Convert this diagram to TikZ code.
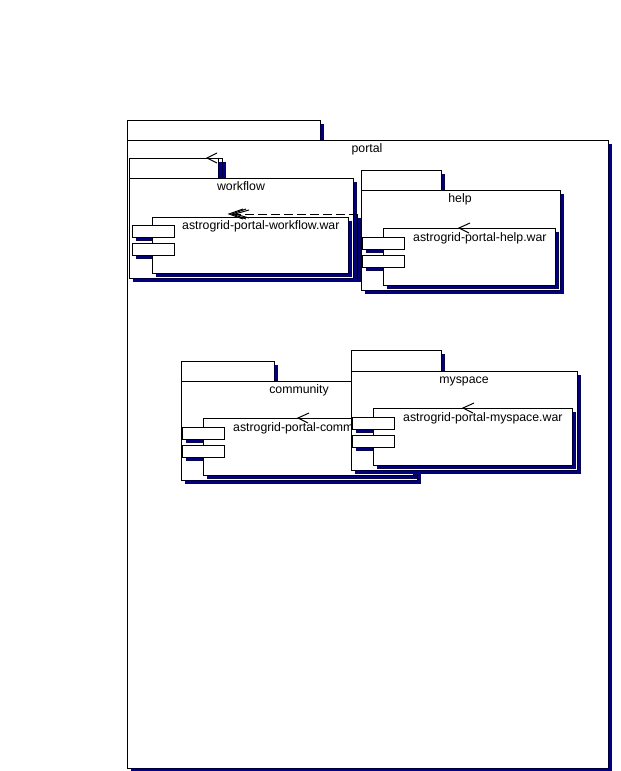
\documentclass[tikz,border=0pt]{standalone}
\usepackage{fontspec}
\setmainfont{Liberation Sans}
\usetikzlibrary{shadows}
\definecolor{navy}{RGB}{0,0,128}
\tikzset{
 box/.style={draw=black, fill=white, line width=1pt, inner sep=0pt, outer sep=0pt, anchor=north west,
   drop shadow={shadow xshift=3.5pt, shadow yshift=-3.5pt, fill=navy, opacity=1}},
 portbox/.style={draw=black, fill=white, line width=1pt, inner sep=0pt, outer sep=0pt, anchor=north west,
   minimum width=42pt, minimum height=12pt},
 lbl/.style={font=\fontsize{12.3}{14}\selectfont, inner sep=0pt, anchor=base},
 clbl/.style={lbl, anchor=base west},
 head/.style={line width=1pt, line join=miter},
}
\newcommand\bx[5]{\node[box, minimum width=#4pt, minimum height=#5pt] (#1) at (#2,#3) {};}
\newcommand\pshadow[2]{\fill[navy] (#1+3.5,#2+3.5) rectangle +(42,12);}
\begin{document}
\begin{tikzpicture}[x=1pt,y=-1pt]
\useasboundingbox (0,0) rectangle (621,771);
\fill[white] (0,0) rectangle (621,771);
% portal
\bx{portaltab}{127}{120}{193}{20}
\bx{portalbody}{127}{140}{481}{628}
\node[lbl] (portallbl) at (367,152) {portal};
% workflow
\bx{wftabb}{129}{158}{93}{20}
\bx{wftab}{129}{158}{89}{20}
\bx{wfextra}{152}{214}{205}{64}
\bx{wfbody}{129}{178}{224}{100}
\node[lbl] (wflbl) at (241,190) {workflow};
\pshadow{132}{225}\pshadow{132}{243}
\bx{wfcomp}{152}{217}{196}{56}
\node[portbox] (wfp1) at (132,225) {};
\node[portbox] (wfp2) at (132,243) {};
\node[clbl] (wfclbl) at (182,229) {astrogrid-portal-workflow.war};
% help
\bx{hptab}{361}{170}{80}{20}
\bx{hpbody}{361}{190}{199}{100}
\node[lbl] (hplbl) at (460,202) {help};
\pshadow{362}{237}\pshadow{362}{255}
\bx{hpcomp}{383}{228}{172}{57}
\node[portbox] (hpp1) at (362,237) {};
\node[portbox] (hpp2) at (362,255) {};
\node[clbl] (hpclbl) at (413,241) {astrogrid-portal-help.war};
% dependency arrows
\coordinate (dtip) at (229,214);
\coordinate (dtip2) at (232,214);
\coordinate (dtip3) at (235,214);
\coordinate (dend) at (358,214);
\draw[line width=1pt, dash pattern=on 9pt off 4pt] (dend) -- (dtip);
\draw[head] (dtip) ++(14,-5) -- (dtip) -- ++(14,5);
\draw[head] (dtip2) ++(14,-5) -- (dtip2) -- ++(14,5);
\draw[head] (dtip3) ++(14,-4) -- (dtip3) -- ++(14,4);
\coordinate (wftip) at (207,158);
\draw[head] (wftip) ++(10,-5) -- (wftip) -- ++(10,5);
\coordinate (hptip) at (459,228);
\draw[head] (hptip) ++(11,-5) -- (hptip) -- ++(10,5);
% community
\bx{cmtab}{181}{361}{93}{20}
\bx{cmbody}{181}{381}{236}{99}
\node[lbl] (cmlbl) at (299,393) {community};
\pshadow{182}{427}\pshadow{182}{445}
\bx{cmcomp}{203}{418}{210}{57}
\node[portbox] (cmp1) at (182,427) {};
\node[portbox] (cmp2) at (182,445) {};
\node[clbl] (cmclbl) at (233,431) {astrogrid-portal-community.war};
\coordinate (cmtip) at (298,418);
\draw[head] (cmtip) ++(11,-5) -- (cmtip) -- ++(10,5);
% myspace
\bx{mstab}{351}{350}{90}{21}
\bx{msbody}{351}{371}{226}{99}
\node[lbl] (mslbl) at (464,383) {myspace};
\pshadow{352}{417}\pshadow{352}{435}
\bx{mscomp}{373}{408}{199}{57}
\node[portbox] (msp1) at (352,417) {};
\node[portbox] (msp2) at (352,435) {};
\node[clbl] (msclbl) at (403,421) {astrogrid-portal-myspace.war};
\coordinate (mstip) at (463,408);
\draw[head] (mstip) ++(11,-5) -- (mstip) -- ++(10,5);
\end{tikzpicture}
\end{document}
